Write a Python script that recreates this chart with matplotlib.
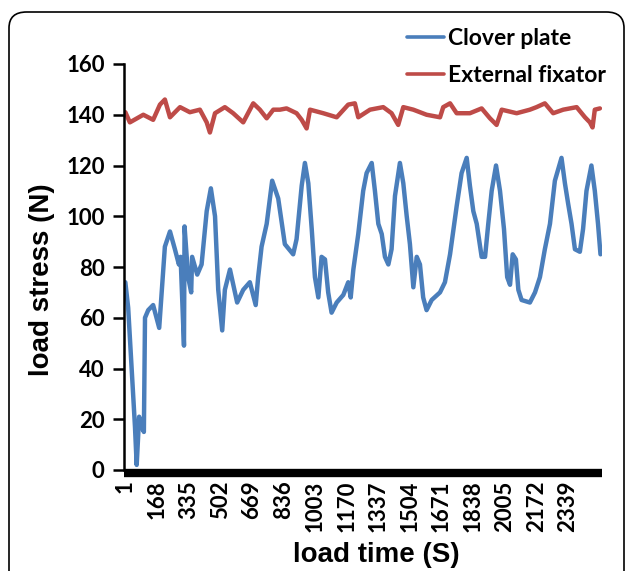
import matplotlib
matplotlib.use("Agg")
import matplotlib.pyplot as plt
from matplotlib.patches import FancyBboxPatch

# ---- data ----
clover_t = [1, 16, 52, 61, 74, 87, 99, 105, 122, 148, 180, 210, 237, 263, 284, 293,
            311, 314, 333, 349, 354, 381, 404, 431, 453, 475, 492, 513, 527, 554,
            592, 624, 659, 690, 703, 721, 748, 777, 809, 844, 888, 906, 933, 950,
            968, 986, 1003, 1021, 1038, 1056, 1073, 1091, 1118, 1153, 1179, 1192,
            1206, 1232, 1258, 1276, 1303, 1320, 1338, 1356, 1373, 1391, 1408, 1426,
            1452, 1470, 1488, 1505, 1523, 1541, 1558, 1575, 1593, 1620, 1664, 1690,
            1717, 1752, 1778, 1805, 1822, 1840, 1858, 1884, 1902, 1919, 1937, 1960,
            1981, 2002, 2019, 2034, 2048, 2065, 2078, 2095, 2139, 2166, 2192, 2218,
            2245, 2271, 2306, 2324, 2341, 2359, 2377, 2403, 2420, 2438, 2464, 2482,
            2499, 2512]
clover_v = [74, 64, 17, 2, 21, 17, 15, 60, 63, 65, 56, 88, 94, 87, 81, 84,
            49, 96, 76, 70, 84, 77, 81, 102, 111, 100, 71, 55, 71, 79,
            66, 71, 74, 65, 76, 88, 97, 114, 107, 89, 85, 91, 112, 121,
            113, 95, 76, 68, 84, 83, 70, 62, 66, 69, 74, 68,
            79, 93, 110, 117, 121, 110, 97, 93, 84, 81, 87, 108,
            121, 113, 100, 89, 72, 84, 81, 68, 63, 67, 70, 74,
            85, 104, 117, 123, 112, 102, 97, 84, 84, 97, 110, 120,
            110, 95, 76, 73, 85, 83, 71, 67, 66, 70, 76, 87,
            97, 114, 123, 113, 105, 97, 87, 86, 95, 110, 120, 110,
            97, 85]

fixator_t = [1, 25, 96, 148, 184, 210, 237, 290, 342, 395, 431, 448, 475, 527, 571,
             624, 677, 712, 748, 783, 818, 853, 906, 933, 959, 977, 1047, 1118,
             1179, 1214, 1232, 1294, 1364, 1408, 1443, 1470, 1523, 1593, 1664,
             1681, 1717, 1752, 1822, 1884, 1928, 1963, 1990, 2069, 2139, 2174,
             2218, 2262, 2315, 2386, 2430, 2456, 2470, 2482, 2509]
fixator_v = [141, 137, 140, 138, 144, 146, 139, 143, 141, 142, 137, 133, 140.6, 143,
             140.6, 137, 144.5, 142, 138.6, 142, 142, 142.5, 140.6, 138, 134.6, 142,
             140.6, 139, 144, 144.5, 139, 142, 143, 140.6, 136, 143, 142, 140, 139,
             143, 144.5, 140.6, 140.6, 142.5, 138.6, 136, 142, 140.6, 142, 143,
             144.5, 140.6, 142, 143, 139, 137, 135, 142, 142.5]

x_ticks = [1, 168, 335, 502, 669, 836, 1003, 1170, 1337, 1504, 1671, 1838, 2005, 2172, 2339]
y_ticks = [0, 20, 40, 60, 80, 100, 120, 140, 160]

BLUE = "#4A7EBB"
RED = "#BE4B48"

fig = plt.figure(figsize=(6.30, 5.71), dpi=100)
ax = fig.add_axes([124 / 630, 1 - 470 / 571, 478 / 630, 406 / 571])

for s in ["top", "right"]:
    ax.spines[s].set_visible(False)
ax.spines["bottom"].set_position(("outward", 2.5))
ax.spines["left"].set_linewidth(1.8)
ax.spines["bottom"].set_linewidth(6)
ax.spines["bottom"].set_capstyle("butt")

ax.plot(clover_t, clover_v, color=BLUE, lw=3.2, label="Clover plate",
        solid_joinstyle="round", solid_capstyle="round")
ax.plot(fixator_t, fixator_v, color=RED, lw=3.2, label="External fixator",
        solid_joinstyle="round", solid_capstyle="round")

ax.set_xlim(-6, 2520)
ax.set_ylim(0, 160)
ax.set_yticks(y_ticks)
ax.set_xticks(x_ticks)

tick_font = dict(family="Lato", weight="bold", size=16)
ax.set_yticklabels([str(v) for v in y_ticks], fontdict=tick_font)
ax.set_xticklabels([str(v) for v in x_ticks], fontdict=tick_font, rotation=90)

ax.tick_params(axis="y", direction="out", length=8, width=1.8, pad=6)
ax.tick_params(axis="x", length=0, pad=5)

fig.text(42 / 630, 1 - 280 / 571, "load stress (N)", rotation=90, ha="center", va="center",
         family="Liberation Sans", weight="bold", size=20)
fig.text(376 / 630, 1 - 555 / 571, "load time (S)", ha="center", va="center",
         family="Liberation Sans", weight="bold", size=20)

leg = fig.legend(loc="upper left", bbox_to_anchor=(407 / 630, 1 - 28 / 571), frameon=False,
                 prop=dict(family="Lato", weight="bold", size=16.5), handlelength=1.6,
                 handletextpad=0.2, labelspacing=0.72, borderaxespad=0, borderpad=0)
for line in leg.get_lines():
    line.set_linewidth(2.6)

frame = FancyBboxPatch((9 / 630, -0.2), 615 / 630, 1.2 - 12 / 571,
                       boxstyle="round,pad=0,rounding_size=0.028", transform=fig.transFigure,
                       fill=False, edgecolor="black", lw=1.2, clip_on=False)
fig.patches.append(frame)

fig.savefig("out.png", dpi=100)
